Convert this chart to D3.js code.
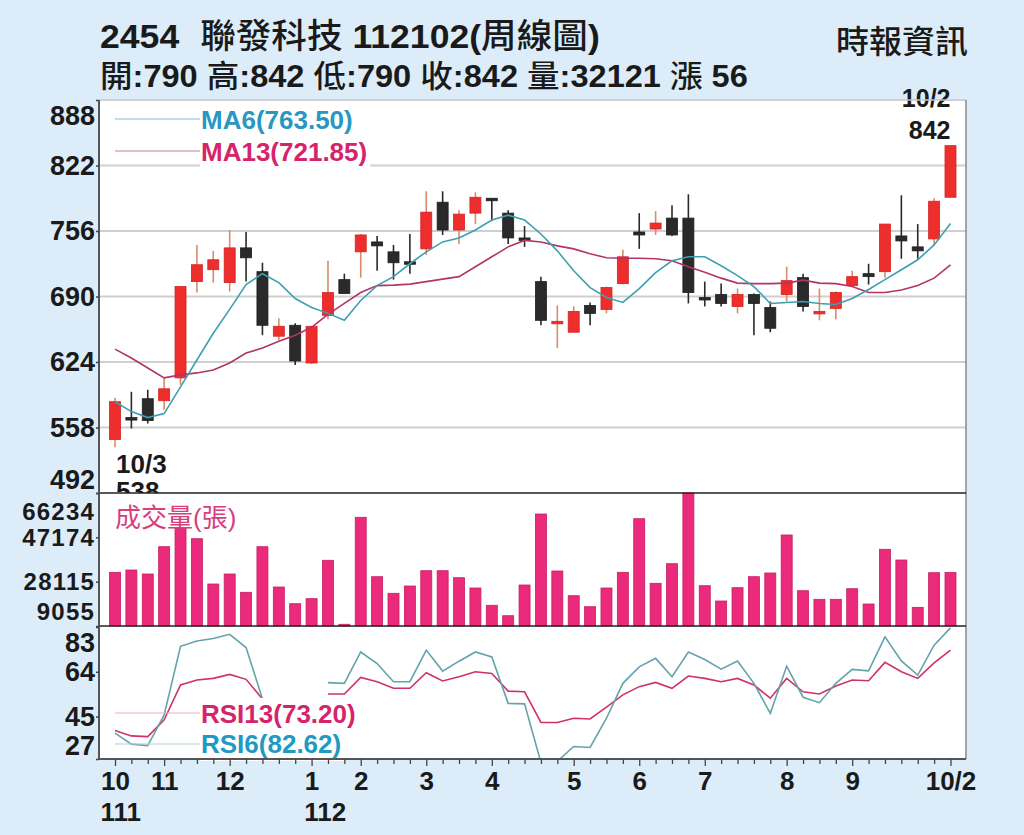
<!DOCTYPE html>
<html>
<head>
<meta charset="utf-8">
<script src="https://cdn.jsdelivr.net/npm/d3@7"></script>
<style>
  body { margin: 0; background: #dcedf9; }
  svg { display: block; }
  text { font-family: "Liberation Sans", Arial, "Noto Sans CJK TC", sans-serif; white-space: pre; }
</style>
</head>
<body>
<div id="chart"></div>
<script>
// weekly candles, 2022/10/3 .. 2023/10/2
const openP  = [546,568,587,585,608,705,717,704,739,715,650,661,623,671,707,735,745,735,725,738,785,757,774,789,774,749,705,663,654,681,677,703,755,758,769,769,689,692,680,692,679,692,709,673,678,701,713,715,751,740,748,790];
const highP  = [588,594,596,608,700,742,736,757,755,724,668,663,660,726,713,753,751,742,753,796,796,777,795,789,777,761,710,681,680,684,700,737,774,776,782,793,705,703,698,693,685,720,713,698,695,716,723,763,792,763,789,842];
const lowP   = [538,557,562,576,601,694,704,695,705,651,646,621,622,667,693,709,716,707,713,732,752,743,763,766,743,740,661,638,654,661,673,702,738,752,751,683,680,680,673,651,654,685,675,666,667,700,702,709,728,728,742,790];
const closeP = [584,567,565,597,700,722,727,739,729,661,660,625,660,694,693,752,741,724,723,775,757,773,790,787,749,748,666,665,675,673,699,730,752,764,752,694,688,683,692,683,658,706,680,675,694,710,710,763,746,736,786,842];

const ma6  = [584,574,568,572,599,626,653,677,702,713,704,688,679,673,666,686,701,710,723,735,745,749,757,767,772,767,753,736,716,699,689,684,698,714,726,730,730,721,711,700,683,684,685,683,682,688,697,707,717,727,742,763.5];
const ma13 = [637,628,618,608,611,613,616,623,633,638,645,651,659,672,683,694,701,701.5,702.5,705,707.5,710,720,730,740,746.5,745,741,738,733,729,728.5,728.5,728,726,720,714.5,708.5,703.5,703,703,703.5,706.5,703.5,703,700,694,694,696.5,701,708.5,721.85];

const volume = [32140,33130,31410,43150,51060,46590,27110,31410,23540,43150,25820,18640,20790,37300,9790,55790,30250,23110,26250,32830,32830,29820,25390,17950,13480,26680,57200,32700,22080,17350,25390,32140,55180,27410,35840,66234,26380,19800,25520,30250,31840,48180,24230,20530,20530,25090,18510,42030,37430,17090,31970,32121];

const rsi6  = [38,33.3,32.7,45.7,74.8,77.1,78.1,79.9,74.3,52.5,null,null,null,59.4,59.1,72.4,67.5,59.8,59.8,73.2,64.3,68.5,72.4,70.3,50.6,50.4,25.5,26,32.3,31.9,44.3,59.1,66.1,69.7,61.9,72.4,69.2,65.1,68.6,59.1,46.4,66.4,53.2,50.9,59.1,65,64.4,78.8,68.6,62.6,75.3,82.62];
const rsi13 = [39.1,36.8,36.5,43.6,58.4,60.5,61.2,62.9,60.8,52.5,null,null,null,54.6,54.6,61.6,59.8,57,57,63.6,60.1,61.9,64,63.3,55.8,55.5,42.5,42.5,44.3,44,49,54.2,57.7,59.5,57,62.2,61.2,59.8,61.2,58.4,52.8,61.2,55.5,54.6,58,60.5,60.2,68,64,61.2,67.8,73.2];

const priceTicks = [888,822,756,690,624,558,492];
const priceGrid  = [822,756,690,624,558];
const volTicks   = [66234,47174,28115,9055];
const rsiTicks   = [83,64,45,27];

const monthIdx  = [0,3,7,12,15,19,23,28,32,36,41,45,51];
const monthText = ["10","11","12","1","2","3","4","5","6","7","8","9","10/2"];
const yearIdx   = [0,12];
const yearText  = ["111","112"];

const width = 1024, height = 835;
const L = 99, R = 966, T = 100, B1 = 493, B2 = 626, B3 = 759;

const svg = d3.select("#chart").append("svg")
    .attr("width", width)
    .attr("height", height);

svg.append("rect").attr("width", width).attr("height", height).attr("fill", "#dcedf9");
svg.append("rect").attr("x", L).attr("y", T).attr("width", R - L).attr("height", B3 - T).attr("fill", "#fff");

const x  = d3.scaleLinear().domain([0, closeP.length - 1]).range([115, 950.5]);
const yP = d3.scaleLinear().domain([492, 888]).range([B1, T]);
const yV = d3.scaleLinear().domain([9055, 66234]).range([B2, B1]);
const yR = d3.scaleLinear().domain([27, 83]).range([B3, 627]);

// clip paths
const defs = svg.append("defs");
defs.append("clipPath").attr("id", "clipPrice").append("rect")
    .attr("x", L).attr("y", 0).attr("width", R - L).attr("height", B1 - 0);
defs.append("clipPath").attr("id", "clipRsi").append("rect")
    .attr("x", L).attr("y", B2).attr("width", R - L).attr("height", B3 - B2);

// header
function fitText(sel, x0, y0, w) {
  const bw = sel.node().getBBox().width;
  sel.attr("transform", `translate(${x0},${y0}) scale(${w / bw},1)`);
}
const h1 = svg.append("text").attr("font-size", 34).attr("fill", "#1a1a1a");
h1.append("tspan").attr("font-weight", "bold").text("2454");
h1.append("tspan").attr("dx", 20).attr("font-weight", 500).text("聯發科技");
h1.append("tspan").attr("font-weight", "bold").text(" 112102(");
h1.append("tspan").attr("font-weight", 500).text("周線圖");
h1.append("tspan").attr("font-weight", "bold").text(")");
fitText(h1, 100, 48, 500);

const h2 = svg.append("text").attr("font-size", 31).attr("fill", "#1a1a1a");
const h2parts = [["開",0],[":790 ",1],["高",0],[":842 ",1],["低",0],[":790 ",1],["收",0],[":842 ",1],["量",0],[":32121 ",1],["漲",0],[" 56",1]];
h2parts.forEach(p => h2.append("tspan").attr("font-weight", p[1] ? "bold" : 500).text(p[0]));
fitText(h2, 100, 87, 648);

const h3 = svg.append("text").attr("font-size", 32).attr("font-weight", 500).attr("fill", "#1a1a1a").text("時報資訊");
fitText(h3, 836, 53, 132);

// price grid
svg.append("g").selectAll("line").data(priceGrid).join("line")
    .attr("x1", L).attr("x2", R)
    .attr("y1", d => yP(d)).attr("y2", d => yP(d))
    .attr("stroke", "#cfcfcf").attr("stroke-width", 2);

// legend (sample line + text on white)
function legend(items, lineY, textY) {
  items.forEach((it, k) => {
    svg.append("line").attr("x1", 115).attr("x2", 200)
        .attr("y1", lineY[k]).attr("y2", lineY[k])
        .attr("stroke", it.line).attr("stroke-width", 1.2);
    const bg = svg.append("rect").attr("fill", "#fff");
    const t = svg.append("text").attr("x", 201).attr("y", textY[k])
        .attr("font-size", 26).attr("font-weight", "bold").attr("fill", it.color).text(it.label);
    const b = t.node().getBBox();
    bg.attr("x", b.x - 1).attr("y", b.y - 1).attr("width", b.width + 4).attr("height", b.height + 3);
  });
}
legend([
  {label: "MA6(763.50)", color: "#2a97c2", line: "#7fbccc"},
  {label: "MA13(721.85)", color: "#d6246b", line: "#b9849d"}
], [119, 151], [129, 161]);

// candles
const cg = svg.append("g").attr("clip-path", "url(#clipPrice)");
const idx = d3.range(closeP.length);
const up = i => closeP[i] >= openP[i];
cg.selectAll(".wick").data(idx).join("line")
    .attr("class", "wick")
    .attr("x1", i => x(i)).attr("x2", i => x(i))
    .attr("y1", i => yP(highP[i])).attr("y2", i => yP(lowP[i]))
    .attr("stroke", i => up(i) ? "#d98a68" : "#2a2a2a")
    .attr("stroke-width", 1.6);
cg.selectAll(".body").data(idx).join("rect")
    .attr("class", "body")
    .attr("x", i => x(i) - 5.5)
    .attr("width", 11)
    .attr("y", i => yP(Math.max(openP[i], closeP[i])))
    .attr("height", i => Math.max(2.5, Math.abs(yP(openP[i]) - yP(closeP[i]))))
    .attr("fill", i => up(i) ? "#ee2d2d" : "#2a2a2a")
    .attr("stroke", i => up(i) ? "#d42424" : "#1e1e1e")
    .attr("stroke-width", 0.8);

// MA lines
const lineP = d3.line().x((d, i) => x(i)).y(d => yP(d));
cg.append("path").datum(ma13).attr("d", lineP)
    .attr("fill", "none").attr("stroke", "#b23468").attr("stroke-width", 1.6);
cg.append("path").datum(ma6).attr("d", lineP)
    .attr("fill", "none").attr("stroke", "#3f9fb0").attr("stroke-width", 1.6);

// annotations for high / low
svg.append("text").attr("x", x(51)).attr("y", 107).attr("text-anchor", "end")
    .attr("font-size", 25).attr("font-weight", "bold").attr("fill", "#1a1a1a").text("10/2");
svg.append("text").attr("x", x(51)).attr("y", 139).attr("text-anchor", "end")
    .attr("font-size", 25).attr("font-weight", "bold").attr("fill", "#1a1a1a").text(d3.max(highP));
svg.append("text").attr("x", x(0) + 1).attr("y", 473)
    .attr("font-size", 26).attr("font-weight", "bold").attr("fill", "#1a1a1a").text("10/3");
svg.append("text").attr("x", x(0) + 1).attr("y", 500).attr("clip-path", "url(#clipPrice)")
    .attr("font-size", 26).attr("font-weight", "bold").attr("fill", "#1a1a1a").text(d3.min(lowP));

// volume bars
svg.append("g").selectAll("rect").data(volume).join("rect")
    .attr("x", (d, i) => x(i) - 5.5)
    .attr("width", 11)
    .attr("y", d => yV(d))
    .attr("height", d => B2 - yV(d))
    .attr("fill", "#ec2a7c")
    .attr("stroke", "#c51f63")
    .attr("stroke-width", 0.8);
svg.append("text").attr("x", 115).attr("y", 527)
    .attr("font-size", 26).attr("fill", "#d6407e").text("成交量(張)");

// RSI
const rg = svg.append("g").attr("clip-path", "url(#clipRsi)");
const lineR = d3.line().defined(d => d != null).x((d, i) => x(i)).y(d => yR(d));
legend([
  {label: "RSI13(73.20)", color: "#d6246b", line: "#e3b1c5"},
  {label: "RSI6(82.62)", color: "#1f9ac4", line: "#b3cdd3"}
], [713, 744], [723, 753]);
rg.append("path").datum(rsi13).attr("d", lineR)
    .attr("fill", "none").attr("stroke", "#cf3168").attr("stroke-width", 1.6);
rg.append("path").datum(rsi6).attr("d", lineR)
    .attr("fill", "none").attr("stroke", "#63a3ad").attr("stroke-width", 1.6);

// frame
svg.append("line").attr("x1", L).attr("x2", R).attr("y1", T).attr("y2", T).attr("stroke", "#c4c4c4").attr("stroke-width", 1.5);
svg.append("line").attr("x1", R).attr("x2", R).attr("y1", T).attr("y2", B3).attr("stroke", "#8a8a8a").attr("stroke-width", 1.5);
[B1, B2].forEach(yy => svg.append("line").attr("x1", L).attr("x2", R).attr("y1", yy).attr("y2", yy)
    .attr("stroke", "#222").attr("stroke-width", 1.6));
svg.append("line").attr("x1", L).attr("x2", R).attr("y1", B3).attr("y2", B3).attr("stroke", "#555").attr("stroke-width", 2);
svg.append("line").attr("x1", L).attr("x2", L).attr("y1", T).attr("y2", B3).attr("stroke", "#555").attr("stroke-width", 2);

// left axes
function leftAxis(scale, ticks, lo, hi, fs, ls) {
  const g = svg.append("g").attr("transform", `translate(${L},0)`)
      .call(d3.axisLeft(scale).tickValues(ticks).tickSize(3).tickPadding(1).tickFormat(d3.format("d")));
  g.attr("font-family", null).attr("font-size", null);
  g.select(".domain").remove();
  g.selectAll(".tick line").attr("stroke", "#444").attr("stroke-width", 1.5);
  g.selectAll(".tick text")
      .attr("font-size", fs).attr("font-weight", "bold").attr("fill", "#1a1a1a")
      .attr("letter-spacing", ls)
      .attr("y", d => { const p = scale(d); return Math.min(hi, Math.max(lo, p)) - p; });
}
leftAxis(yP, priceTicks, 116, 480, 27, 0);
leftAxis(yV, volTicks, 512, 612, 24, 1.2);
leftAxis(yR, rsiTicks, 643, 746, 27, 0);

// bottom axis
const mLab = new Map(monthIdx.map((m, k) => [m, monthText[k]]));
const xg = svg.append("g").attr("transform", `translate(0,${B3})`)
    .call(d3.axisBottom(x).tickValues(idx).tickSize(5).tickPadding(8).tickFormat(i => mLab.get(i) || ""));
xg.attr("font-family", null).attr("font-size", null);
xg.select(".domain").remove();
xg.selectAll(".tick line").attr("stroke", "#444").attr("stroke-width", 1.3)
    .attr("y2", i => mLab.has(i) ? 7 : 5);
xg.selectAll(".tick text").attr("font-size", 26).attr("font-weight", "bold").attr("fill", "#1a1a1a");

yearIdx.forEach((m, k) => {
  const tick = xg.selectAll(".tick").filter(i => i === m).select("text");
  const b = tick.node().getBBox();
  svg.append("text").attr("x", x(m) + b.x).attr("y", 821)
      .attr("font-size", 26).attr("font-weight", "bold").attr("fill", "#1a1a1a").text(yearText[k]);
});
</script>
</body>
</html>
